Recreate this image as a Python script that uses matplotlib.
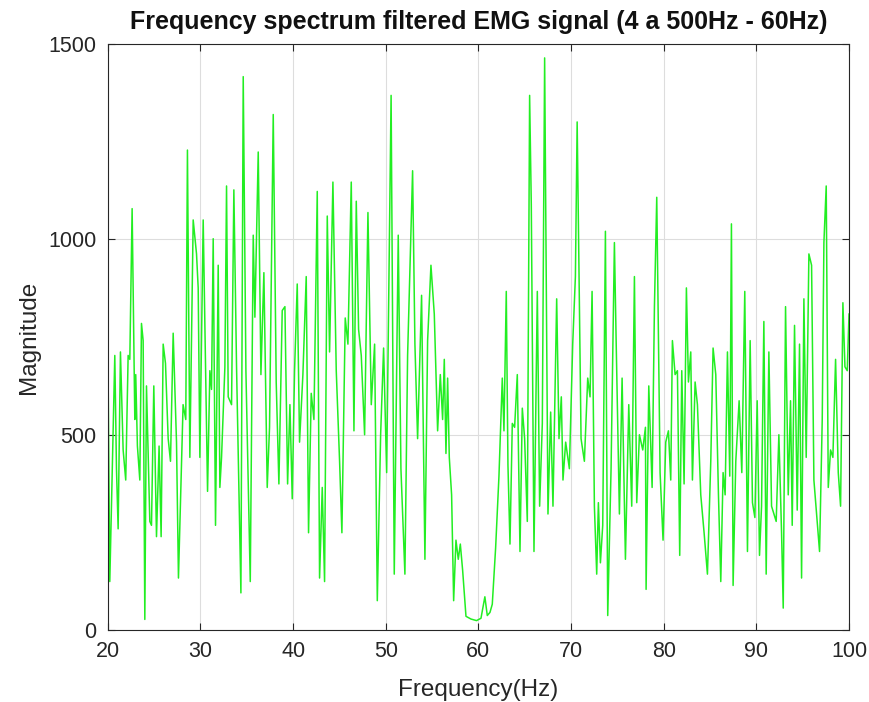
import matplotlib.pyplot as plt

# peaks and troughs (Hz, magnitude)
freq = [20.0, 20.22, 20.76, 20.94, 21.12, 21.37, 21.66, 21.94, 22.2, 22.38,
        22.63, 22.92, 23.02, 23.2, 23.46, 23.64, 23.82, 24.0, 24.18, 24.54,
        24.72, 24.97, 25.26, 25.54, 25.76, 25.98, 26.23, 26.52, 26.77, 27.06,
        27.42, 27.63, 28.13, 28.42, 28.6, 28.86, 29.22, 29.58, 29.76, 29.94,
        30.3, 30.77, 31.02, 31.2, 31.38, 31.63, 31.92, 32.1, 32.28, 32.64,
        32.82, 33.0, 33.36, 33.61, 33.9, 34.37, 34.62, 34.91, 35.38, 35.7,
        35.88, 36.24, 36.53, 36.85, 37.21, 37.46, 37.86, 38.18, 38.47, 38.83,
        39.12, 39.41, 39.66, 39.91, 40.16, 40.45, 40.7, 41.06, 41.42, 41.67,
        41.96, 42.25, 42.61, 42.86, 43.15, 43.4, 43.69, 43.94, 44.3, 44.66,
        45.02, 45.27, 45.63, 45.92, 46.28, 46.57, 46.82, 47.07, 47.36, 47.72,
        48.08, 48.44, 48.8, 49.09, 49.45, 49.77, 50.1, 50.58, 50.92, 51.35,
        51.64, 52.07, 52.36, 52.9, 53.15, 53.44, 53.87, 54.23, 54.52, 54.88,
        55.24, 55.6, 55.89, 56.14, 56.32, 56.5, 56.68, 56.86, 57.11, 57.33,
        57.58, 57.83, 58.05, 58.3, 58.66, 59.2, 59.8, 60.28, 60.7, 60.96,
        61.25, 61.5, 61.86, 62.22, 62.58, 62.76, 63.01, 63.19, 63.41, 63.66,
        63.91, 64.2, 64.49, 64.74, 64.99, 65.28, 65.53, 65.71, 66.0, 66.36,
        66.61, 66.9, 67.15, 67.51, 67.8, 68.05, 68.45, 68.7, 68.95, 69.13,
        69.42, 69.82, 70.18, 70.47, 70.66, 71.08, 71.44, 71.8, 72.05, 72.27,
        72.52, 72.77, 72.95, 73.17, 73.42, 73.71, 73.96, 74.32, 74.68, 74.86,
        75.22, 75.51, 75.87, 76.23, 76.55, 76.84, 77.09, 77.38, 77.74, 78.03,
        78.1, 78.39, 78.75, 79.0, 79.25, 79.61, 79.93, 80.22, 80.51, 80.76,
        80.94, 81.23, 81.48, 81.73, 81.95, 82.2, 82.45, 82.67, 82.92, 83.1,
        83.39, 83.64, 84.0, 84.36, 84.72, 85.08, 85.33, 85.62, 85.91, 86.16,
        86.41, 86.63, 86.88, 87.13, 87.31, 87.49, 87.78, 88.14, 88.43, 88.75,
        89.04, 89.33, 89.58, 89.84, 90.09, 90.34, 90.56, 90.81, 91.06, 91.35,
        91.64, 91.89, 92.14, 92.43, 92.72, 92.9, 93.15, 93.44, 93.69, 93.87,
        94.12, 94.41, 94.66, 94.88, 95.13, 95.38, 95.67, 95.96, 96.21, 96.57,
        96.82, 97.11, 97.29, 97.54, 97.76, 98.01, 98.26, 98.55, 98.84, 99.09,
        99.34, 99.56, 99.81, 100.0]

magnitude = [760, 124, 703, 413, 259, 712, 461, 384, 703, 693,
             1079, 539, 654, 471, 384, 785, 741, 27, 625, 278,
             268, 625, 239, 471, 239, 732, 683, 490, 432, 760,
             481, 133, 577, 539, 1229, 442, 1050, 963, 876, 442,
             1050, 355, 664, 616, 1002, 268, 934, 365, 442, 673,
             1137, 597, 577, 1127, 673, 95, 1417, 664, 124, 1011,
             801, 1224, 654, 915, 365, 519, 1320, 635, 374, 818,
             828, 374, 577, 336, 664, 886, 481, 654, 905, 249,
             606, 539, 1123, 133, 365, 124, 1060, 712, 1147, 664,
             432, 249, 799, 732, 1147, 510, 1098, 770, 703, 500,
             1069, 577, 732, 75, 500, 722, 403, 1369, 143, 1011,
             413, 143, 703, 1176, 732, 490, 857, 181, 741, 934,
             809, 510, 654, 539, 693, 452, 645, 442, 346, 75,
             230, 181, 220, 153, 35, 28, 24, 30, 85, 37,
             45, 66, 210, 394, 645, 510, 867, 423, 220, 529,
             519, 654, 201, 568, 490, 278, 1369, 1089, 201, 867,
             317, 529, 1465, 297, 558, 317, 848, 490, 597, 384,
             481, 413, 732, 905, 1301, 490, 432, 645, 597, 867,
             317, 143, 326, 172, 268, 1021, 37, 413, 992, 751,
             297, 645, 181, 577, 317, 905, 326, 500, 461, 519,
             104, 625, 365, 828, 1108, 403, 230, 481, 510, 384,
             741, 654, 664, 191, 664, 374, 876, 635, 712, 384,
             635, 577, 346, 249, 143, 432, 722, 654, 346, 124,
             403, 346, 712, 394, 1040, 114, 432, 587, 403, 867,
             201, 741, 326, 288, 587, 191, 317, 790, 143, 712,
             317, 297, 278, 500, 249, 56, 828, 346, 587, 268,
             780, 307, 732, 133, 848, 442, 963, 934, 384, 278,
             201, 539, 992, 1137, 365, 461, 442, 693, 403, 317,
             838, 674, 664, 809]

plt.rcParams['font.family'] = ['Liberation Sans', 'DejaVu Sans']

fig = plt.figure(figsize=(8.69, 7.02), dpi=100)
ax = fig.add_axes([0.124, 0.1026, 0.853, 0.8344])

ax.plot(freq, magnitude, color='#22ee22', linewidth=1.1)

ax.set_xlim(20, 100)
ax.set_ylim(0, 1500)
ax.set_xticks(range(20, 101, 10))
ax.set_yticks([0, 500, 1000, 1500])
ax.grid(True, color='#dddddd', linewidth=0.8)
ax.tick_params(direction='in', top=True, right=True, labelsize=15.5,
               colors='#262626', length=5, pad=8)
for s in ax.spines.values():
    s.set_color('#262626')

ax.set_xlabel('Frequency(Hz)', fontsize=17.5, color='#262626', labelpad=12)
ax.set_ylabel('Magnitude', fontsize=17.5, color='#262626', labelpad=6)
ax.set_title('Frequency spectrum filtered EMG signal (4 a 500Hz - 60Hz)',
             fontsize=18, fontweight='bold', color='#111111', pad=11)

fig.savefig('out.png', dpi=100)
